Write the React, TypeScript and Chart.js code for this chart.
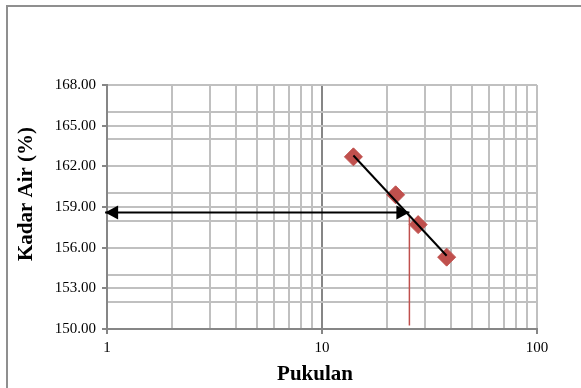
import React, { useEffect, useRef } from "react";
import { Chart, registerables } from "chart.js";

Chart.register(...registerables);

// data
const blows = [14, 22, 28, 38];
const moisture = [162.7, 159.9, 157.7, 155.3];
const trendX = [14, 38];
const trendY = [162.8, 155.4];
const arrowX = [0.98, 25.5];
const arrowY = [158.6, 158.6];
const dropX = [25.5, 25.5];
const dropY = [158.4, 150.25];

const xGridValues = [1, 2, 3, 4, 5, 6, 7, 8, 9, 10, 20, 30, 40, 50, 60, 70, 80, 90, 100];
const xLabelValues = [1, 10, 100];
const yGridValues = [150, 152, 153, 154, 156, 158, 159, 160, 162, 164, 165, 166, 168];
const yLabelValues = [150, 153, 156, 159, 162, 165, 168];

const xTitle = "Pukulan";
const yTitle = "Kadar Air (%)";

const FONT = "'Liberation Serif', 'Times New Roman', serif";
const RED = "#c0504d";
const GRID = "#c0c0c0";
const AXIS = "#868686";

const extrasPlugin = {
  id: "extras",
  afterDatasetsDraw(chart: any) {
    const ctx = chart.ctx;
    // arrowheads on the horizontal arrow dataset (index 1)
    const meta = chart.getDatasetMeta(1);
    const pts = meta.data;
    if (pts && pts.length === 2) {
      const a = pts[0];
      const b = pts[1];
      const len = 13;
      const half = 7;
      ctx.save();
      ctx.fillStyle = "#000";
      ctx.beginPath();
      ctx.moveTo(a.x, a.y);
      ctx.lineTo(a.x + len, a.y - half);
      ctx.lineTo(a.x + len, a.y + half);
      ctx.closePath();
      ctx.fill();
      ctx.beginPath();
      ctx.moveTo(b.x, b.y);
      ctx.lineTo(b.x - len, b.y - half);
      ctx.lineTo(b.x - len, b.y + half);
      ctx.closePath();
      ctx.fill();
      ctx.restore();
    }
  },
  afterDraw(chart: any) {
    const ctx = chart.ctx;
    const area = chart.chartArea;
    ctx.save();
    ctx.fillStyle = "#000";
    ctx.font = `bold 21px ${FONT}`;
    ctx.textAlign = "center";
    ctx.textBaseline = "alphabetic";
    ctx.fillText(xTitle, (area.left + area.right) / 2 - 7, 380);
    ctx.translate(32, (area.top + area.bottom) / 2 - 13);
    ctx.rotate(-Math.PI / 2);
    ctx.fillText(yTitle, 0, 0);
    ctx.restore();
  },
};

export default function App() {
  const ref = useRef<HTMLCanvasElement | null>(null);

  useEffect(() => {
    if (!ref.current) return;
    const chart = new Chart(ref.current, {
      type: "scatter",
      data: {
        datasets: [
          {
            label: "trend",
            data: trendX.map((x, i) => ({ x, y: trendY[i] })),
            showLine: true,
            borderColor: "#000",
            borderWidth: 2,
            pointRadius: 0,
          },
          {
            label: "arrow",
            data: arrowX.map((x, i) => ({ x, y: arrowY[i] })),
            showLine: true,
            borderColor: "#000",
            borderWidth: 2,
            pointRadius: 0,
            clip: false as any,
          },
          {
            label: "drop",
            data: dropX.map((x, i) => ({ x, y: dropY[i] })),
            showLine: true,
            borderColor: RED,
            borderWidth: 1.5,
            pointRadius: 0,
          },
          {
            label: "data",
            data: blows.map((x, i) => ({ x, y: moisture[i] })),
            showLine: false,
            pointStyle: "rectRot",
            pointRadius: 9,
            pointBackgroundColor: RED,
            pointBorderColor: RED,
            pointBorderWidth: 1,
          },
        ],
      },
      options: {
        animation: false,
        responsive: false,
        maintainAspectRatio: false,
        layout: { padding: { top: 85, right: 44, left: 0, bottom: 0 } },
        plugins: { legend: { display: false }, tooltip: { enabled: false } },
        scales: {
          x: {
            type: "logarithmic",
            min: 1,
            max: 100,
            afterBuildTicks: (scale: any) => {
              scale.ticks = xGridValues.map((v) => ({ value: v }));
            },
            afterFit: (scale: any) => {
              scale.height = 59;
            },
            ticks: {
              autoSkip: false,
              maxRotation: 0,
              padding: 5,
              color: "#000",
              font: { family: FONT, size: 15 },
              callback: (v: any) => (xLabelValues.includes(Number(v)) ? String(v) : ""),
            },
            grid: {
              color: (c: any) => (c.tick && c.tick.value === 10 ? AXIS : GRID),
              lineWidth: 2,
              tickLength: 5,
              tickColor: (c: any) =>
                c.tick && xLabelValues.includes(c.tick.value) ? AXIS : "rgba(0,0,0,0)",
            },
            border: { color: AXIS, width: 2 },
          },
          y: {
            type: "linear",
            min: 150,
            max: 168,
            afterBuildTicks: (scale: any) => {
              scale.ticks = yGridValues.map((v) => ({ value: v }));
            },
            afterFit: (scale: any) => {
              scale.width = 107;
            },
            ticks: {
              autoSkip: false,
              padding: 6,
              color: "#000",
              font: { family: FONT, size: 15 },
              callback: (v: any) => (yLabelValues.includes(Number(v)) ? Number(v).toFixed(2) : ""),
            },
            grid: {
              color: GRID,
              lineWidth: 2,
              tickLength: 5,
              tickColor: (c: any) =>
                c.tick && yLabelValues.includes(c.tick.value) ? AXIS : "rgba(0,0,0,0)",
            },
            border: { color: AXIS, width: 2 },
          },
        },
      },
      plugins: [extrasPlugin],
    });
    return () => chart.destroy();
  }, []);

  return (
    <div
      style={{
        position: "fixed",
        left: 0,
        top: 0,
        width: 581,
        height: 388,
        overflow: "hidden",
        background: "#fff",
      }}
    >
      <div
        style={{
          position: "absolute",
          left: 6,
          top: 5,
          width: 620,
          height: 440,
          border: "2px solid #8f8f8f",
          boxSizing: "border-box",
        }}
      />
      <canvas
        ref={ref}
        width={581}
        height={388}
        style={{ position: "absolute", left: 0, top: 0, width: 581, height: 388 }}
      />
    </div>
  );
}
